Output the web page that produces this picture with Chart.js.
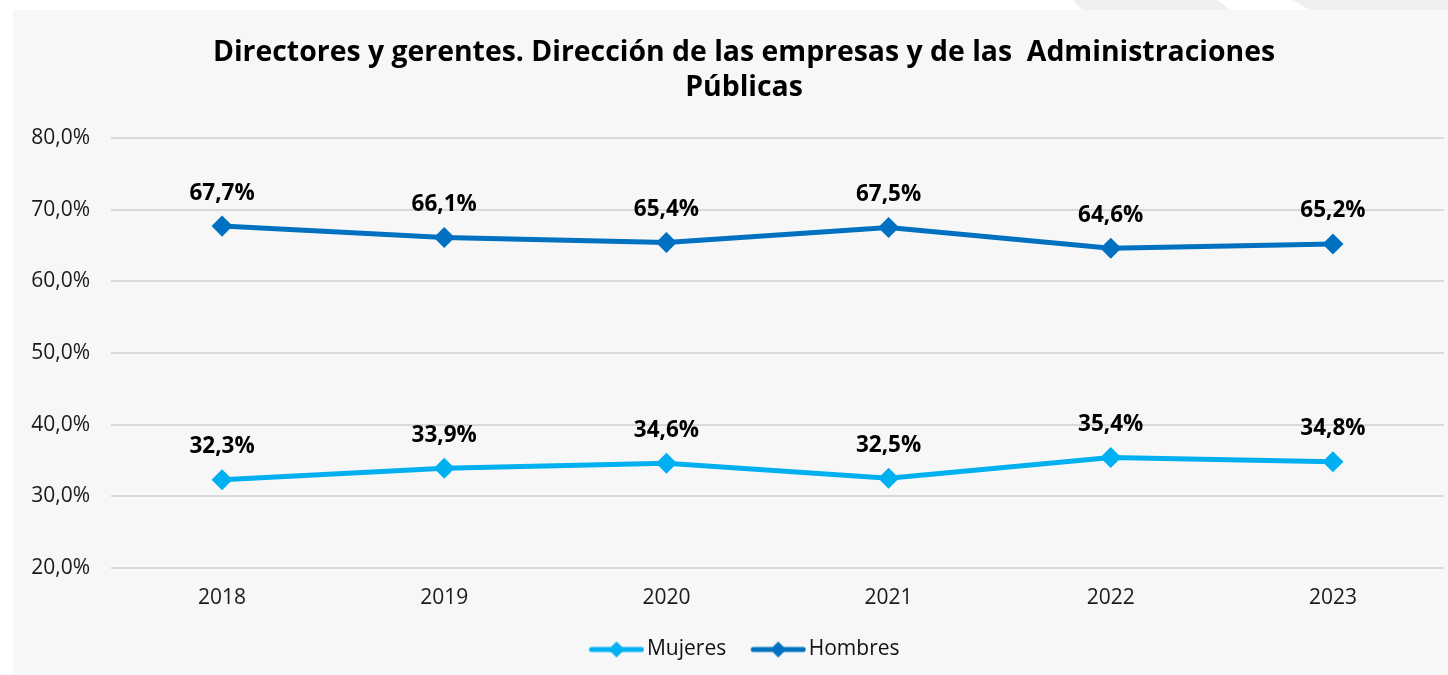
<!DOCTYPE html>
<html>
<head>
<meta charset="utf-8">
<script src="https://cdn.jsdelivr.net/npm/chart.js@4"></script>
<style>
  html, body { margin: 0; padding: 0; background: #ffffff; overflow: hidden; width: 1448px; height: 675px; position: relative; }
  #deco { position: absolute; left: 0; top: 0; }
  #box { position: absolute; left: 13px; top: 10px; width: 1462px; height: 665px; background: #f7f7f7; }
  #c { display: block; }
</style>
</head>
<body>
<svg id="deco" width="1448" height="10">
  <polygon points="1073,0 1217,0 1230,10 1082,10" fill="#efefef"/>
  <polygon points="1292,0 1448,0 1448,10 1310,10" fill="#efefef"/>
</svg>
<div id="box"><canvas id="c" width="1462" height="665"></canvas></div>
<script>
const categories = ['2018', '2019', '2020', '2021', '2022', '2023'];
const mujeres = [32.3, 33.9, 34.6, 32.5, 35.4, 34.8];
const hombres = [67.7, 66.1, 65.4, 67.5, 64.6, 65.2];
const seriesNames = ['Mujeres', 'Hombres'];
const titleLines = ['Directores y gerentes. Dirección de las empresas y de las  Administraciones', 'Públicas'];
const yTicks = [20, 30, 40, 50, 60, 70, 80];

const FONT = '"Open Sans"';
const colMuj = '#00b0f0';
const colHom = '#0070c0';

function fmt(v) { return v.toFixed(1).replace('.', ',') + '%'; }

function legendIcon(color) {
  const c = document.createElement('canvas');
  c.width = 78; c.height = 18;
  const g = c.getContext('2d');
  g.strokeStyle = color; g.lineWidth = 5; g.lineCap = 'round';
  g.beginPath(); g.moveTo(25, 9); g.lineTo(75, 9); g.stroke();
  g.fillStyle = color;
  g.beginPath(); g.moveTo(50, 1); g.lineTo(58, 9); g.lineTo(50, 17); g.lineTo(42, 9); g.closePath(); g.fill();
  return c;
}

const labelPlugin = {
  id: 'valueLabels',
  afterLayout(chart) {
    // nudge the legend row so its visible marks are centred like the original
    if (chart.legend) { chart.legend.left -= 7; chart.legend.right -= 7; }
  },
  afterDatasetsDraw(chart) {
    const ctx = chart.ctx;
    ctx.save();
    ctx.font = 'bold 22.5px ' + FONT;
    ctx.fillStyle = '#000000';
    ctx.textAlign = 'center';
    ctx.textBaseline = 'middle';
    chart.data.datasets.forEach((ds, i) => {
      const meta = chart.getDatasetMeta(i);
      meta.data.forEach((pt, j) => {
        ctx.fillText(fmt(ds.data[j]), pt.x, pt.y - 33);
      });
    });
    ctx.restore();
  }
};

new Chart(document.getElementById('c'), {
  type: 'line',
  data: {
    labels: categories,
    datasets: [
      { label: seriesNames[0], data: mujeres, borderColor: colMuj, backgroundColor: colMuj, borderWidth: 5,
        pointStyle: 'rectRot', pointRadius: 7, pointHoverRadius: 7, tension: 0 },
      { label: seriesNames[1], data: hombres, borderColor: colHom, backgroundColor: colHom, borderWidth: 5,
        pointStyle: 'rectRot', pointRadius: 7, pointHoverRadius: 7, tension: 0 }
    ]
  },
  options: {
    responsive: false,
    animation: false,
    events: [],
    layout: { padding: { left: 7, right: 7, top: 0, bottom: 5 } },
    plugins: {
      title: {
        display: true,
        text: titleLines,
        color: '#000000',
        font: { family: FONT, size: 28.4, weight: 'bold', lineHeight: 1.25 },
        padding: { top: 25, bottom: 32 }
      },
      legend: {
        position: 'bottom',
        labels: {
          color: '#111111',
          font: { family: FONT, size: 21 },
          usePointStyle: true,
          pointStyleWidth: 62,
          boxHeight: 18,
          padding: 10,
          generateLabels(chart) {
            return chart.data.datasets.map((ds, i) => ({
              text: ds.label,
              fillStyle: ds.borderColor,
              strokeStyle: ds.borderColor,
              fontColor: '#111111',
              lineWidth: 0,
              pointStyle: legendIcon(ds.borderColor),
              datasetIndex: i,
              hidden: false
            }));
          }
        }
      },
      tooltip: { enabled: false }
    },
    scales: {
      x: {
        offset: true,
        grid: { display: false, drawTicks: false },
        border: { display: false },
        ticks: { color: '#1a1a1a', font: { family: FONT, size: 21 }, padding: 18 }
      },
      y: {
        position: 'left',
        min: 20, max: 80,
        afterFit(scale) { scale.width = 91; },
        afterBuildTicks(scale) { scale.ticks = yTicks.map(v => ({ value: v })); },
        grid: { color: '#d9d9d9', lineWidth: 2, drawTicks: false },
        border: { display: false },
        ticks: { color: '#1a1a1a', font: { family: FONT, size: 21 }, padding: 21,
                 callback: (v) => fmt(v) }
      },
      spacer: {
        type: 'linear',
        position: 'right',
        display: true,
        afterFit(scale) { scale.width = 24; },
        grid: { display: false, drawTicks: false },
        border: { display: false },
        ticks: { display: false }
      }
    }
  },
  plugins: [labelPlugin]
});
</script>
</body>
</html>
